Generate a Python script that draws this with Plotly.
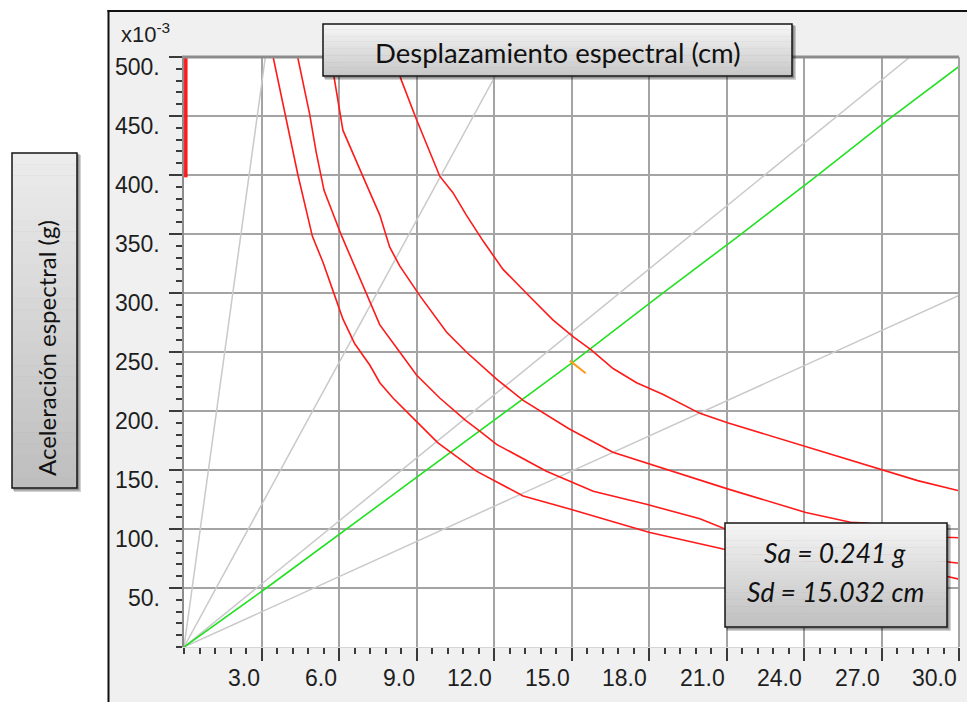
import plotly.graph_objects as go

# ---------------------------------------------------------------- data
# Demand spectra (ADRS), Sd in cm, Sa in g
SD_1 = [3.45, 3.96, 4.41, 4.97, 5.38, 5.83, 6.15, 6.61, 7.19, 7.58, 8.09, 8.87,
        9.83, 11.32, 13.13, 14.93, 18.03, 20.87, 23.0, 25.5, 28.0, 29.5, 30.0]
SA_1 = [0.500, 0.447, 0.400, 0.348, 0.326, 0.298, 0.278, 0.257, 0.239, 0.224, 0.211, 0.194,
        0.173, 0.149, 0.128, 0.117, 0.097, 0.083, 0.076, 0.069, 0.063, 0.060, 0.0575]

SD_2 = [4.40, 4.86, 5.12, 5.42, 6.09, 6.48, 7.12, 7.58, 8.35, 9.00, 9.90, 10.90,
        11.45, 12.10, 14.03, 15.84, 17.90, 19.97, 21.00, 24.00, 27.00, 29.50, 30.00]
SA_2 = [0.500, 0.452, 0.419, 0.387, 0.349, 0.329, 0.295, 0.273, 0.250, 0.2305, 0.211, 0.192,
        0.183, 0.1717, 0.149, 0.132, 0.121, 0.1086, 0.0995, 0.088, 0.079, 0.072, 0.071]

SD_3 = [5.68, 6.15, 7.06, 7.58, 7.96, 8.35, 9.12, 10.16, 10.93, 12.10, 13.13, 14.00,
        14.90, 16.60, 18.03, 19.97, 21.04, 24.07, 25.80, 26.40, 29.50, 30.00]
SA_3 = [0.500, 0.438, 0.392, 0.366, 0.339, 0.323, 0.298, 0.267, 0.250, 0.227, 0.209, 0.197,
        0.185, 0.165, 0.155, 0.141, 0.134, 0.114, 0.1057, 0.105, 0.093, 0.0926]

SD_4 = [8.10, 8.42, 9.00, 9.51, 9.90, 10.41, 10.93, 11.58, 12.35, 13.38, 14.29, 15.06,
        15.75, 16.61, 17.52, 18.55, 19.97, 21.04, 24.07, 27.02, 28.40, 30.00]
SA_4 = [0.500, 0.480, 0.447, 0.419, 0.399, 0.385, 0.366, 0.344, 0.320, 0.297, 0.277, 0.263,
        0.252, 0.236, 0.224, 0.214, 0.198, 0.190, 0.170, 0.150, 0.141, 0.1324]

# Short vertical red segment on the Sa axis
SD_AXIS_SEG = [0.07, 0.07]
SA_AXIS_SEG = [0.398, 0.500]

# Constant-period radial lines (end points from the origin)
PERIOD_SD = [[0, 3.15], [0, 12.45], [0, 28.1], [0, 30.0]]
PERIOD_SA = [[0, 0.500], [0, 0.500], [0, 0.500], [0, 0.298]]

# Capacity curve
CAP_SD = [0.0, 3.19, 15.032, 18.42, 21.39, 24.36, 27.26, 30.0]
CAP_SA = [0.0, 0.050, 0.241, 0.298, 0.347, 0.397, 0.447, 0.492]

# Performance point
PP_SD = 15.032
PP_SA = 0.241
PP_MARK_SD = [14.93, PP_SD, 15.55]
PP_MARK_SA = [0.2425, PP_SA, 0.232]

# Axis ticks
X_TICKS = [3.0, 6.0, 9.0, 12.0, 15.0, 18.0, 21.0, 24.0, 27.0, 30.0]
X_LABELS = ["3.0", "6.0", "9.0", "12.0", "15.0", "18.0", "21.0", "24.0", "27.0", "30.0"]
Y_TICKS = [50, 100, 150, 200, 250, 300, 350, 400, 450, 500]
Y_LABELS = ["50.", "100.", "150.", "200.", "250.", "300.", "350.", "400.", "450.", "500."]

SCALE = 1000.0  # Sa shown in units of 1e-3 g

# ---------------------------------------------------------------- layout geometry
W, H = 967, 702
ML, MR, MT, MB = 184, 8, 57, 55
PW = W - ML - MR
PH = H - MT - MB


def px(xpix):
    return (xpix - ML) / PW


def py(ypix):
    return (H - MB - ypix) / PH


RED = "#ff1a1a"
GREY_LINE = "#c9c9c9"
GREEN = "#22e022"
GRID = "#a4a4a4"
TICK = "#3a3a3a"
TICK_FONT = dict(family="Liberation Sans Narrow, Liberation Sans", size=23, color="#1e1e1e")

fig = go.Figure()

for sd, sa in zip(PERIOD_SD, PERIOD_SA):
    fig.add_trace(go.Scatter(x=sd, y=[v * SCALE for v in sa], mode="lines",
                             line=dict(color=GREY_LINE, width=1.5), hoverinfo="skip"))

fig.add_trace(go.Scatter(x=CAP_SD, y=[v * SCALE for v in CAP_SA], mode="lines",
                         line=dict(color=GREEN, width=1.6), hoverinfo="skip"))

for sd, sa in [(SD_1, SA_1), (SD_2, SA_2), (SD_3, SA_3), (SD_4, SA_4)]:
    fig.add_trace(go.Scatter(x=sd, y=[v * SCALE for v in sa], mode="lines",
                             line=dict(color=RED, width=1.6), hoverinfo="skip"))

fig.add_trace(go.Scatter(x=SD_AXIS_SEG, y=[v * SCALE for v in SA_AXIS_SEG], mode="lines",
                         line=dict(color=RED, width=3.5), hoverinfo="skip"))

fig.add_trace(go.Scatter(x=PP_MARK_SD, y=[v * SCALE for v in PP_MARK_SA], mode="lines",
                         line=dict(color="#ff9a1a", width=2), hoverinfo="skip"))

shapes = []
# white surround outside the framed panel
shapes.append(dict(type="rect", xref="paper", yref="paper", x0=px(-5), x1=px(107.5),
                   y0=py(H + 5), y1=py(-5), fillcolor="white", line=dict(width=0), layer="below"))
shapes.append(dict(type="rect", xref="paper", yref="paper", x0=px(-5), x1=px(W + 5),
                   y0=py(10), y1=py(-5), fillcolor="white", line=dict(width=0), layer="below"))
# black frame (left and top)
shapes.append(dict(type="line", xref="paper", yref="paper", x0=px(108.5), x1=px(108.5),
                   y0=py(10), y1=py(H + 5), line=dict(color="#111111", width=2)))
shapes.append(dict(type="line", xref="paper", yref="paper", x0=px(107.5), x1=px(W + 5),
                   y0=py(11), y1=py(11), line=dict(color="#111111", width=2)))
# plot border: top and right
shapes.append(dict(type="line", xref="paper", yref="paper", x0=px(182), x1=1,
                   y0=1, y1=1, line=dict(color="#8c8c8c", width=3)))
shapes.append(dict(type="line", xref="paper", yref="paper", x0=1, x1=1,
                   y0=0, y1=1, line=dict(color=GRID, width=2)))


def gradient_box(x0, y0, x1, y1, top_rgb, bot_rgb, n=30):
    out = []
    # drop shadow
    out.append(dict(type="rect", xref="paper", yref="paper", x0=px(x0 + 2), x1=px(x1 + 4),
                    y0=py(y1 + 4), y1=py(y0 + 2), fillcolor="rgba(0,0,0,0.18)",
                    line=dict(width=0), layer="above"))
    out.append(dict(type="rect", xref="paper", yref="paper", x0=px(x0 + 1), x1=px(x1 + 2.5),
                    y0=py(y1 + 2.5), y1=py(y0 + 1), fillcolor="rgba(0,0,0,0.3)",
                    line=dict(width=0), layer="above"))
    step = (y1 - y0) / n
    for i in range(n):
        t = i / (n - 1)
        c = tuple(round(a + (b - a) * t) for a, b in zip(top_rgb, bot_rgb))
        out.append(dict(type="rect", xref="paper", yref="paper", x0=px(x0), x1=px(x1),
                        y0=py(y0 + (i + 1) * step + 0.5), y1=py(y0 + i * step),
                        fillcolor="rgb(%d,%d,%d)" % c, line=dict(width=0), layer="above"))
    out.append(dict(type="rect", xref="paper", yref="paper", x0=px(x0), x1=px(x1),
                    y0=py(y1), y1=py(y0), fillcolor="rgba(0,0,0,0)",
                    line=dict(color="#151515", width=1.5), layer="above"))
    return out


shapes += gradient_box(323, 24, 792, 76, (246, 246, 246), (200, 200, 200))
shapes += gradient_box(12, 153, 77, 488, (236, 236, 236), (190, 190, 190))
shapes += gradient_box(725, 523, 947, 627, (244, 244, 244), (192, 192, 192))

annotations = [
    dict(text="Desplazamiento espectral (cm)", x=px(558), y=py(52), xref="paper", yref="paper",
         showarrow=False, xanchor="center", yanchor="middle",
         font=dict(family="Lato", size=27.5, color="#111111")),
    dict(text="Aceleración espectral (g)", x=px(46), y=py(348), xref="paper", yref="paper",
         showarrow=False, xanchor="center", yanchor="middle", textangle=-90,
         font=dict(family="Lato", size=24, color="#111111")),
    dict(text="<i>Sa = %.3f g</i>" % PP_SA, x=px(835), y=py(553), xref="paper", yref="paper",
         showarrow=False, xanchor="center", yanchor="middle",
         font=dict(family="Lato", size=26.5, color="#111111")),
    dict(text="<i>Sd = %.3f cm</i>" % PP_SD, x=px(835), y=py(592), xref="paper", yref="paper",
         showarrow=False, xanchor="center", yanchor="middle",
         font=dict(family="Lato", size=26.5, color="#111111")),
    dict(text="x10<sup>-3</sup>", x=px(119), y=py(49), xref="paper", yref="paper",
         showarrow=False, xanchor="left", yanchor="bottom",
         font=dict(family="Liberation Sans Narrow, Liberation Sans", size=22, color="#1e1e1e")),
]

# tick labels: x labels sit left of their tick, y labels hang below their tick
for v, t in zip(X_TICKS, X_LABELS):
    annotations.append(dict(text=t, x=v, xref="x", y=py(664), yref="paper", showarrow=False,
                            xanchor="right", yanchor="top", xshift=-1, font=TICK_FONT,
                            borderpad=0))
for v, t in zip(Y_TICKS, Y_LABELS):
    annotations.append(dict(text=t, x=px(161), xref="paper", y=v, yref="y", showarrow=False,
                            xanchor="right", yanchor="top", yshift=4, font=TICK_FONT,
                            borderpad=0))

fig.update_layout(
    width=W, height=H, autosize=False,
    margin=dict(l=ML, r=MR, t=MT, b=MB, pad=0),
    paper_bgcolor="#f0f0f0", plot_bgcolor="white",
    showlegend=False,
    shapes=shapes, annotations=annotations,
    xaxis=dict(range=[0, 30], tickmode="array", tickvals=X_TICKS, ticktext=X_LABELS,
               showticklabels=False,
               ticks="outside", ticklen=13, tickwidth=2, tickcolor=TICK,
               showgrid=True, gridcolor=GRID, gridwidth=2, zeroline=False,
               showline=True, linecolor="#d6d6d6", linewidth=1,
               minor=dict(dtick=0.6, tick0=0, ticks="outside", ticklen=6, tickwidth=2,
                          tickcolor=TICK, showgrid=False)),
    yaxis=dict(range=[0, 500], tickmode="array", tickvals=Y_TICKS, ticktext=Y_LABELS,
               showticklabels=False,
               ticks="outside", ticklen=13, tickwidth=2, tickcolor=TICK,
               showgrid=True, gridcolor=GRID, gridwidth=2, zeroline=False,
               showline=True, linecolor="#8c8c8c", linewidth=2,
               minor=dict(dtick=10, tick0=0, ticks="outside", ticklen=6, tickwidth=2,
                          tickcolor=TICK, showgrid=False)),
)

fig.write_html("out.html")
